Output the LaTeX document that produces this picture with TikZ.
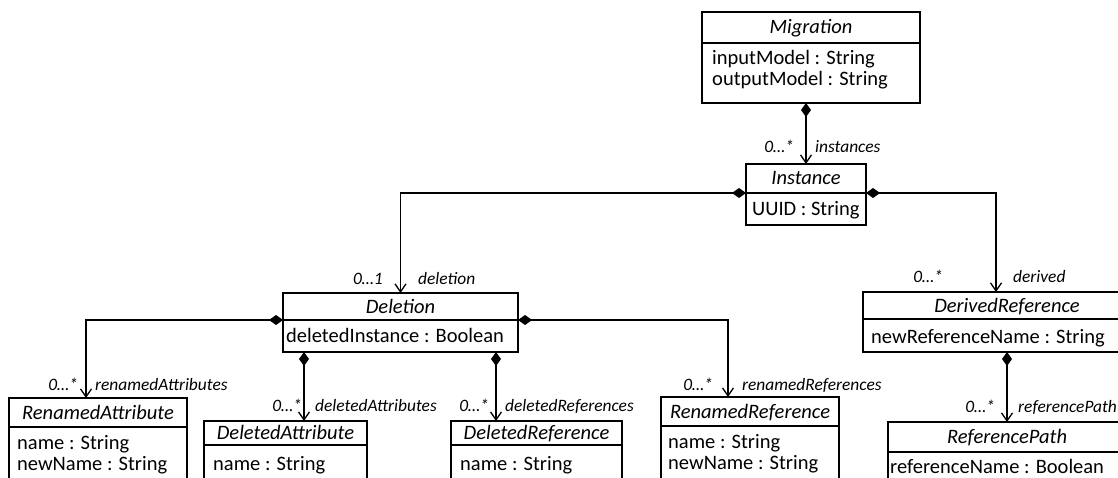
\documentclass[tikz,border=0pt]{standalone}
\usepackage{fontspec}
\setmainfont{Carlito}
\usetikzlibrary{arrows.meta}
\begin{document}
\begin{tikzpicture}[x=1pt,y=-1pt,
  box/.style={draw, line width=1.3pt, inner sep=0pt, outer sep=0pt, anchor=north west},
  hdr/.style={box, font=\itshape\fontsize{20.5}{21}\selectfont, text height=14pt, text depth=1pt},
  att/.style={anchor=base west, inner sep=0pt, font=\fontsize{20.5}{21}\selectfont},
  lbl/.style={inner sep=0pt, font=\itshape\fontsize{17.4}{18}\selectfont},
  comp/.style={line width=1.3pt, {Diamond[length=14pt,width=10pt]}-{Straight Barb[length=8pt,width=11pt]}}
]
\useasboundingbox (0,0) rectangle (1118,478);
\clip (0,0) rectangle (1118,478);
\fill[white] (0,0) rectangle (1118,478);

% Migration
\node[hdr, minimum width=218, minimum height=31] (migH) at (702,12) {Migration};
\node[box, minimum width=218, minimum height=60] (migA) at (702,43) {};
\node[att] (migT) at (712,65) {\begin{tabular}[t]{@{}l@{}}inputModel : String\\outputModel : String\end{tabular}};

% Instance
\node[hdr, minimum width=120, minimum height=29] (insH) at (746,164) {Instance};
\node[box, minimum width=120, minimum height=32] (insA) at (746,193) {};
\node[att] (insT) at (752,216) {UUID : String};

% Deletion
\node[hdr, minimum width=235, minimum height=27] (delH) at (283,293) {Deletion};
\node[box, minimum width=235, minimum height=32] (delA) at (283,320) {};
\node[att] (delT) at (286,342) {deletedInstance : Boolean};

% DerivedReference
\node[hdr, minimum width=288, minimum height=27] (derH) at (863,292) {DerivedReference};
\node[box, minimum width=288, minimum height=33] (derA) at (863,319) {};
\node[att] (derT) at (871,343) {newReferenceName : String};

% RenamedAttribute
\node[hdr, minimum width=178, minimum height=29] (raH) at (9,398) {RenamedAttribute};
\node[box, minimum width=178, minimum height=80] (raA) at (9,427) {};
\node[att] (raT) at (17,449) {\begin{tabular}[t]{@{}l@{}}name : String\\newName : String\end{tabular}};

% DeletedAttribute
\node[hdr, minimum width=163, minimum height=24] (daH) at (204,421) {DeletedAttribute};
\node[box, minimum width=163, minimum height=60] (daA) at (204,445) {};
\node[att] (daT) at (213,470) {name : String};

% DeletedReference
\node[hdr, minimum width=171, minimum height=24] (drH) at (451,421) {DeletedReference};
\node[box, minimum width=171, minimum height=60] (drA) at (451,445) {};
\node[att] (drT) at (460,470) {name : String};

% RenamedReference
\node[hdr, minimum width=178, minimum height=29] (rrH) at (661,397) {RenamedReference};
\node[box, minimum width=178, minimum height=80] (rrA) at (661,426) {};
\node[att] (rrT) at (668,448) {\begin{tabular}[t]{@{}l@{}}name : String\\newName : String\end{tabular}};

% ReferencePath
\node[hdr, minimum width=238, minimum height=30] (rpH) at (888,422) {ReferencePath};
\node[box, minimum width=238, minimum height=60] (rpA) at (888,452) {};
\node[att] (rpT) at (890,473) {referenceName : Boolean};

% connectors
\draw[comp] (migA.south -| insH.north) -- (insH.north);
\draw[comp] (insH.south west) -| (delH.north);
\draw[comp] (insH.south east) -| ([xshift=133pt]derH.north west);
\draw[comp] (delH.south west) -| ([xshift=77pt]raH.north west);
\draw[comp] ([xshift=21pt]delA.south west) -- ([xshift=21pt]delA.south west |- daH.north);
\draw[comp] ([xshift=213pt]delA.south west) -- ([xshift=213pt]delA.south west |- drH.north);
\draw[comp] (delH.south east) -| ([xshift=67pt]rrH.north west);
\draw[comp] (derA.south) -- (rpH.north);

% labels
\node[lbl, anchor=base east] (m1) at (794,153) {0…*};
\node[lbl, anchor=base west] (r1) at (815,153) {instances};
\node[lbl, anchor=base east] (m2) at (383,284) {0…1};
\node[lbl, anchor=base west] (r2) at (418,284) {deletion};
\node[lbl, anchor=base east] (m3) at (943,282) {0…*};
\node[lbl, anchor=base west] (r3) at (1013,282) {derived};
\node[lbl, anchor=base east] (m4) at (78,390) {0…*};
\node[lbl, anchor=base west] (r4) at (95,390) {renamedAttributes};
\node[lbl, anchor=base east] (m5) at (302,411) {0…*};
\node[lbl, anchor=base west] (r5) at (315,411) {deletedAttributes};
\node[lbl, anchor=base east] (m6) at (489,411) {0…*};
\node[lbl, anchor=base west] (r6) at (505,411) {deletedReferences};
\node[lbl, anchor=base east] (m7) at (713,390) {0…*};
\node[lbl, anchor=base west] (r7) at (742,390) {renamedReferences};
\node[lbl, anchor=base east] (m8) at (995,412) {0…*};
\node[lbl, anchor=base west] (r8) at (1018,412) {referencePath};
\end{tikzpicture}
\end{document}
